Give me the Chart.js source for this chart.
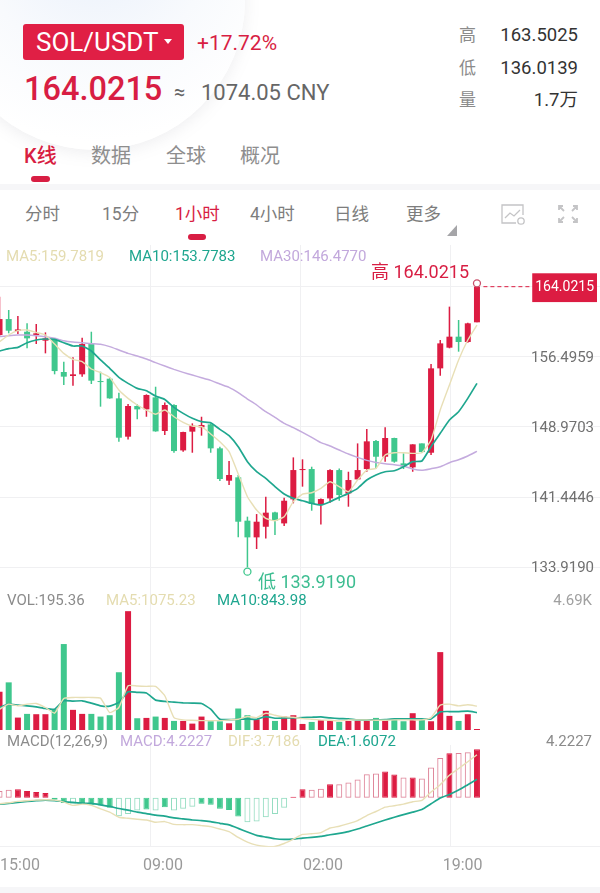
<!DOCTYPE html>
<html lang="zh">
<head>
<meta charset="utf-8">
<title>SOL/USDT</title>
<script src="https://cdn.jsdelivr.net/npm/chart.js@4/dist/chart.umd.min.js"></script>
<style>
  html, body { margin: 0; padding: 0; background: #fff; }
  body { position: relative; width: 600px; height: 893px; overflow: hidden; font-family: Roboto, "Noto Sans CJK SC", sans-serif; }
  .t { position: absolute; white-space: nowrap; line-height: 1; z-index: 3; transform: translateY(-50%); }
  .r { transform: translate(-100%, -50%); }
  canvas { position: absolute; left: 0; z-index: 1; }
  #glow { position: absolute; left: -55px; top: -150px; width: 300px; height: 300px; border-radius: 50%;
    background: radial-gradient(circle at 50% 30%, #e9f0fb 0%, #f8fafd 45%, #fff 78%); box-shadow: 0 3px 16px rgba(120,125,140,.13); }
  #btn { position: absolute; left: 23px; top: 24px; width: 161px; height: 36px; background: #e01f45; border-radius: 3px; }
  .pill { position: absolute; background: #d81e43; border-radius: 3px; height: 6px; }
  #band1 { position: absolute; left: 0; top: 184px; width: 600px; height: 6px; background: #f6f6f8; }
  #band2 { position: absolute; left: 0; top: 887px; width: 600px; height: 6px; background: #f6f6f8; }
  .red { color: #d81e43; }
  .gray { color: #8b8b8b; }
  .tab { font-size: 20px; color: #8e8e8e; }
  .sub { font-size: 17.5px; color: #7d7d7d; }
  .ma { font-size: 15px; }
</style>
</head>
<body>
<div id="glow"></div>
<div id="btn"></div>
<div class="t" style="left:36px;top:42px;font-size:26px;color:#fff">SOL/USDT</div>
<svg style="position:absolute;left:164px;top:39px;z-index:3" width="8" height="6"><path d="M0 0H8L4 5Z" fill="#fff"/></svg>
<div class="t red" style="left:197px;top:43px;font-size:21px">+17.72%</div>
<div class="t red" style="left:24px;top:89px;font-size:32.5px;font-weight:500">164.0215</div>
<div class="t" style="left:174px;top:92px;font-size:20px;color:#666">≈</div>
<div class="t" style="left:201px;top:93px;font-size:22px;color:#666">1074.05 CNY</div>

<div class="t gray" style="left:459px;top:35px;font-size:17px">高</div>
<div class="t r" style="left:578px;top:35px;font-size:18.5px;color:#333">163.5025</div>
<div class="t gray" style="left:459px;top:68px;font-size:17px">低</div>
<div class="t r" style="left:578px;top:68px;font-size:18.5px;color:#333">136.0139</div>
<div class="t gray" style="left:459px;top:100px;font-size:17px">量</div>
<div class="t r" style="left:578px;top:100px;font-size:18.5px;color:#333">1.7万</div>

<div class="t red" style="left:24px;top:156px;font-size:20px;font-weight:500">K线</div>
<div class="t tab" style="left:91px;top:156px">数据</div>
<div class="t tab" style="left:166px;top:156px">全球</div>
<div class="t tab" style="left:240px;top:156px">概况</div>
<div class="pill" style="left:31px;top:176px;width:19px"></div>
<div id="band1"></div>

<div class="t sub" style="left:25px;top:215px">分时</div>
<div class="t sub" style="left:102px;top:215px">15分</div>
<div class="t sub red" style="left:175px;top:215px;color:#d81e43">1小时</div>
<div class="t sub" style="left:250px;top:215px">4小时</div>
<div class="t sub" style="left:334px;top:215px">日线</div>
<div class="t sub" style="left:406px;top:215px">更多</div>
<div class="pill" style="left:188px;top:234px;width:18px"></div>
<svg style="position:absolute;left:447px;top:225px;z-index:3" width="10" height="11"><path d="M0 11L10 0V11Z" fill="#a5a5a8"/></svg>
<svg style="position:absolute;left:500px;top:203px;z-index:3" width="27" height="24" fill="none" stroke="#c4c4c6" stroke-width="1.3">
  <path d="M16 20H2V2H23V12"/><path d="M5 15L10 10L14 13L20 7"/><circle cx="21" cy="18" r="3.2"/>
</svg>
<svg style="position:absolute;left:557px;top:204px;z-index:3" width="22" height="20" fill="none" stroke="#c4c4c6" stroke-width="1.8">
  <path d="M2 6V2H6M16 2H20V6M2 14V18H6M20 14V18H16M3 3L7 7M19 3L15 7M3 17L7 13M19 17L15 13"/>
</svg>

<div class="t ma" style="left:6px;top:256px;color:#e4dcb0">MA5:159.7819</div>
<div class="t ma" style="left:129px;top:256px;color:#1ea68f">MA10:153.7783</div>
<div class="t ma" style="left:260px;top:256px;color:#c2a8dc">MA30:146.4770</div>
<div class="t red" style="left:371px;top:272px;font-size:18px">高 164.0215</div>
<div class="t" style="left:258px;top:582px;font-size:18px;color:#3dbd91">低 133.9190</div>

<div class="t ma" style="left:7px;top:600px;color:#8b8b8b">VOL:195.36</div>
<div class="t ma" style="left:106px;top:600px;color:#e4dcb0">MA5:1075.23</div>
<div class="t ma" style="left:217px;top:600px;color:#1ea68f">MA10:843.98</div>
<div class="t ma r" style="left:592px;top:600px;color:#a0a0a0">4.69K</div>

<div class="t ma" style="left:7px;top:741px;color:#8b8b8b">MACD(12,26,9)</div>
<div class="t ma" style="left:120px;top:741px;color:#c2a8dc">MACD:4.2227</div>
<div class="t ma" style="left:228px;top:741px;color:#e4dcb0">DIF:3.7186</div>
<div class="t ma" style="left:318px;top:741px;color:#1ea68f">DEA:1.6072</div>
<div class="t ma r" style="left:592px;top:741px;color:#8b8b8b">4.2227</div>
<div id="band2"></div>

<canvas id="price" width="600" height="345" style="top:245px"></canvas>
<canvas id="vol" width="600" height="140" style="top:590px"></canvas>
<canvas id="macd" width="600" height="133" style="top:745px"></canvas>

<script>
const opens = [158.84,160.55,159.27,159.19,158.84,158.23,158.30,154.87,154.44,154.62,157.87,153.90,154.15,152.04,147.93,151.22,150.86,152.15,148.54,151.33,146.46,148.47,148.93,149.25,146.68,143.21,143.57,138.92,137.13,138.27,139.81,138.63,141.21,144.35,144.46,140.71,141.31,144.35,141.85,143.35,144.46,147.47,145.78,147.79,145.07,144.64,147.21,146.21,155.26,157.48,158.66,158.09,160.20];
const highs = [162.95,161.52,160.88,160.09,160.02,159.12,158.48,155.98,156.44,158.55,159.19,154.90,154.29,152.65,151.43,151.40,152.47,153.29,151.61,151.40,148.47,149.36,150.07,149.36,146.86,145.32,143.82,139.35,139.63,141.49,139.88,141.39,145.71,145.50,144.71,141.31,144.43,144.53,144.17,147.21,148.75,147.57,148.93,147.82,146.14,147.11,147.21,155.73,158.30,161.88,160.45,160.16,164.02];
const lows = [158.66,159.02,158.94,157.41,157.87,156.87,154.62,153.47,153.40,154.37,153.58,151.15,152.01,147.39,147.64,149.79,150.07,148.47,148.11,146.21,146.32,146.21,148.04,146.21,143.17,142.75,137.13,133.92,135.88,137.02,137.38,138.35,140.78,142.57,139.99,138.51,140.85,141.06,140.42,143.28,144.17,144.53,145.25,145.14,144.46,144.17,146.21,145.96,154.47,157.41,157.05,158.01,160.20];
const closes = [160.55,159.30,159.44,158.48,159.02,158.48,154.97,154.37,154.62,157.87,153.94,153.79,152.04,147.82,151.22,150.86,152.40,148.50,151.33,146.39,148.43,149.11,149.18,146.68,143.39,143.82,138.81,137.13,138.81,139.78,138.92,141.06,144.35,144.46,140.71,141.24,144.35,141.67,143.28,144.35,147.43,145.78,147.79,145.25,144.71,147.11,146.28,155.26,157.94,158.66,158.09,160.09,164.02];
const ma5 = [158.12,158.84,159.30,159.37,159.12,158.84,157.87,156.87,156.23,155.98,155.19,154.80,154.29,152.94,152.04,151.33,150.79,150.33,150.79,150.07,149.47,149.07,149.00,148.22,147.39,146.32,143.92,141.49,140.06,139.17,138.92,139.35,140.96,141.78,141.92,142.39,143.10,142.57,142.03,143.28,144.35,144.53,145.96,146.21,146.21,146.14,146.21,147.57,150.79,153.47,156.15,158.30,159.91];
const ma10 = [157.12,157.37,157.51,158.01,158.30,158.41,158.37,158.01,157.66,157.66,157.12,156.16,155.26,154.29,153.65,153.11,152.86,152.29,151.93,151.08,150.43,149.90,149.54,149.43,148.72,148.04,146.86,145.25,144.17,143.46,142.57,141.78,141.31,141.06,140.78,140.60,140.96,141.42,141.85,142.39,143.28,143.82,144.17,144.28,144.71,145.25,145.32,146.86,148.29,149.72,150.61,152.04,153.65];
const ma30 = [158.66,158.77,158.84,158.84,158.77,158.66,158.48,158.23,158.09,158.01,157.91,157.84,157.59,157.23,156.87,156.58,156.26,155.87,155.51,155.15,154.83,154.54,154.26,153.97,153.58,153.22,152.65,151.97,151.33,150.61,150.00,149.36,148.90,148.40,147.86,147.29,146.93,146.50,146.07,145.71,145.39,145.17,145.03,144.93,144.78,144.46,144.32,144.50,144.71,145.14,145.46,145.86,146.36];

const volumes = [1510,1880,490,636,623,623,822,3392,795,636,636,530,583,2279,4690,464,477,530,477,358,358,252,530,345,345,265,848,583,424,755,358,530,583,239,318,384,358,318,358,358,358,477,384,424,345,663,398,345,3074,557,358,623,40];
const volMa5 = [822,1020,954,1020,1047,888,663,1246,1285,1285,1285,1259,689,888,1749,1736,1723,1723,1352,490,398,384,371,371,371,398,424,530,490,663,583,517,504,451,424,398,384,358,398,398,398,384,384,398,398,398,398,490,981,1020,954,994,941];
const volMa10 = [888,1020,981,954,914,848,822,1153,1140,1153,1060,954,941,1087,1511,1484,1458,1179,1126,1100,1073,1060,1047,822,424,411,424,437,424,530,464,477,477,490,504,517,477,451,437,398,398,398,411,437,437,437,437,437,716,729,729,742,689];

const macdBars = [0.59,0.70,0.73,0.59,0.50,0.41,-0.18,-0.47,-0.53,-0.47,-0.62,-0.67,-0.88,-1.61,-1.41,-1.11,-1.03,-1.11,-0.82,-1.11,-0.97,-0.79,-0.53,-0.62,-0.97,-1.06,-1.64,-2.14,-2.08,-1.70,-1.41,-0.88,0.09,0.73,0.70,0.79,1.17,1.17,1.32,1.58,2.05,2.11,2.29,2.02,1.76,1.76,1.67,2.64,3.46,3.87,3.90,3.96,4.22];
const macdSolid = [0,0,1,1,1,1,1,1,0,1,1,1,1,0,0,0,1,0,1,0,0,0,1,1,1,1,1,0,0,0,0,0,1,1,0,0,1,0,0,0,0,0,1,1,0,1,0,0,0,1,0,0,1];
const dif = [-0.53,-0.44,-0.32,-0.26,-0.21,-0.18,-0.21,-0.38,-0.67,-0.56,-0.67,-0.97,-1.26,-1.70,-1.79,-1.88,-1.94,-2.14,-2.08,-2.32,-2.35,-2.35,-2.43,-2.52,-2.73,-2.96,-3.46,-3.87,-4.13,-4.25,-4.25,-3.99,-3.61,-3.20,-3.14,-3.05,-2.64,-2.49,-2.26,-1.99,-1.55,-1.20,-0.82,-0.70,-0.56,-0.35,-0.23,0.50,1.14,1.96,2.55,3.14,3.75];
const dea = [-0.56,-0.50,-0.41,-0.32,-0.26,-0.21,-0.26,-0.35,-0.41,-0.47,-0.50,-0.62,-0.76,-0.94,-1.08,-1.26,-1.38,-1.52,-1.61,-1.76,-1.85,-1.94,-1.99,-2.08,-2.23,-2.37,-2.67,-2.99,-3.28,-3.43,-3.58,-3.64,-3.61,-3.52,-3.46,-3.37,-3.23,-3.11,-2.96,-2.73,-2.46,-2.20,-1.94,-1.70,-1.47,-1.26,-1.03,-0.53,-0.03,0.29,0.67,1.14,1.61];

const priceTicks = [164.0215, 156.4959, 148.9703, 141.4446, 133.919];
const timeLabels = ["15:00", "09:00", "02:00", "19:00"];
const timeSlots = [2.23, 17.8, 35.23, 50.44];
const gridSlots = [16.44, 32.78, 49.12];
const lastPriceLine = [52.7, 57.9];

const RED = "#dc1c42";
const GREEN = "#3fc78d";
const PALE_RED = "#de8398";
const PALE_GREEN = "#93dcc0";
const GRID = "#f0f0f2";
const slots = opens.map((_, i) => i);
const isUp = slots.map((i) => closes[i] >= opens[i]);

function lineSet(values, color, width) {
  return {
    type: "line",
    data: values.map((y, x) => ({ x, y })),
    borderColor: color,
    borderWidth: width,
    pointRadius: 0,
    tension: 0.15,
    order: 1,
  };
}

function barSet(data, colors, thickness, extra) {
  return {
    data,
    backgroundColor: colors,
    grouped: false,
    maxBarThickness: thickness,
    order: 3,
    ...extra,
  };
}

// bar charts turn offset on by default, which would squeeze a linear x axis
function xAxis() {
  return {
    type: "linear",
    min: 0.052,
    max: 65.4,
    offset: false,
    afterBuildTicks: (axis) => {
      axis.ticks = gridSlots.map((value) => ({ value }));
    },
    ticks: { display: false },
    grid: { color: GRID, drawTicks: false, offset: false },
    border: { display: false },
  };
}

// labels sit inside the plot, so the axis must not reserve room for them
function dropAxisRoom(axis) {
  axis.paddingTop = 0;
  axis.paddingBottom = 0;
  axis.paddingLeft = 0;
  axis.paddingRight = 0;
  if (axis.axis === "y") axis.width = 0;
}

function baseOptions(scales) {
  return {
    responsive: false,
    animation: false,
    events: [],
    layout: { padding: 0, autoPadding: false },
    plugins: { legend: { display: false }, tooltip: { enabled: false } },
    scales,
  };
}

new Chart(document.querySelector("#price"), {
  type: "bar",
  data: {
    datasets: [
      lineSet(ma5, "#e8dfb6", 1.4),
      lineSet(ma10, "#1fa78f", 1.7),
      lineSet(ma30, "#c4abde", 1.5),
      barSet(slots.map((x) => ({ x, y: [opens[x], closes[x]] })), isUp.map((u) => (u ? RED : GREEN)), 6, { order: 2 }),
      barSet(slots.map((x) => ({ x, y: [lows[x], highs[x]] })), isUp.map((u) => (u ? RED : GREEN)), 1.5),
      {
        type: "line",
        data: lastPriceLine.map((x) => ({ x, y: priceTicks[0] })),
        borderColor: RED,
        borderWidth: 1,
        borderDash: [4, 3],
        pointRadius: 0,
        order: 1,
      },
      {
        type: "line",
        data: [{ x: 52, y: 164.38 }],
        showLine: false,
        pointRadius: 3.5,
        pointBackgroundColor: "#fff",
        pointBorderColor: "#c9506b",
        pointBorderWidth: 1.3,
        order: 0,
      },
      {
        type: "line",
        data: [{ x: 27, y: 133.45 }],
        showLine: false,
        pointRadius: 3.5,
        pointBackgroundColor: "#fff",
        pointBorderColor: GREEN,
        pointBorderWidth: 1.3,
        order: 0,
      },
    ],
  },
  options: baseOptions({
    x: xAxis(),
    y: {
      position: "right",
      min: 131.484,
      max: 168.493,
      offset: false,
      afterBuildTicks: (axis) => {
        axis.ticks = priceTicks.map((value) => ({ value }));
      },
      afterFit: dropAxisRoom,
      grid: { color: GRID, drawTicks: false, offset: false },
      border: { display: false },
      ticks: {
        mirror: true,
        padding: -6,
        labelOffset: 1,
        autoSkip: false,
        font: (ctx) => ({ family: "Roboto", size: ctx.tick && ctx.tick.value === priceTicks[0] ? 14 : 15 }),
        color: (ctx) => (ctx.tick.value === priceTicks[0] ? "#fff" : "#707070"),
        showLabelBackdrop: (ctx) => ctx.tick.value === priceTicks[0],
        backdropColor: RED,
        backdropPadding: { x: 3, y: 6 },
        callback: (value) => value.toFixed(4),
      },
    },
  }),
});

new Chart(document.querySelector("#vol"), {
  type: "bar",
  data: {
    datasets: [
      lineSet(volMa5, "#e8dfb6", 1.4),
      lineSet(volMa10, "#1fa78f", 1.7),
      barSet(slots.map((x) => ({ x, y: volumes[x] })), isUp.map((u) => (u ? RED : GREEN)), 6),
    ],
  },
  options: baseOptions({
    x: { ...xAxis(), border: { display: true, color: GRID } },
    y: { display: false, min: 0, max: 5525, offset: false },
  }),
});

new Chart(document.querySelector("#macd"), {
  type: "bar",
  data: {
    datasets: [
      lineSet(dif, "#e8dfb6", 1.4),
      lineSet(dea, "#1fa78f", 1.7),
      barSet(
        slots.map((x) => ({ x, y: macdBars[x] })),
        slots.map((i) => (macdSolid[i] ? (macdBars[i] >= 0 ? RED : GREEN) : "rgba(255,255,255,0)")),
        6,
        {
          borderColor: slots.map((i) =>
            macdSolid[i] ? (macdBars[i] >= 0 ? RED : GREEN) : macdBars[i] >= 0 ? PALE_RED : PALE_GREEN
          ),
          borderWidth: 1,
          borderSkipped: false,
        }
      ),
    ],
  },
  options: baseOptions({
    x: { ...xAxis(), weight: 1, border: { display: true, color: GRID } },
    xTime: {
      type: "linear",
      position: "bottom",
      weight: 2,
      min: 0.052,
      max: 65.4,
      offset: false,
      afterBuildTicks: (axis) => {
        axis.ticks = timeSlots.map((value) => ({ value }));
      },
      afterFit: dropAxisRoom,
      grid: { display: false },
      border: { display: false },
      ticks: {
        autoSkip: false,
        maxRotation: 0,
        padding: 2,
        color: "#9a9a9a",
        font: { family: "Roboto", size: 16 },
        callback: (value) => timeLabels[timeSlots.indexOf(value)],
      },
    },
    y: { display: false, min: -4.28, max: 4.6, offset: false },
  }),
});
</script>
</body>
</html>
